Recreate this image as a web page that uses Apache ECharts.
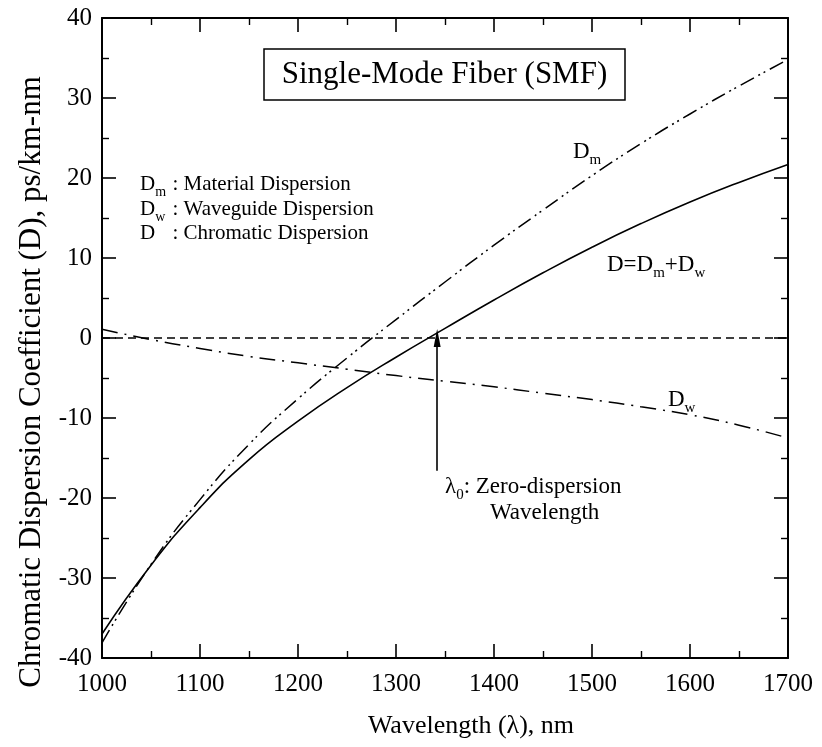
<!DOCTYPE html>
<html>
<head>
<meta charset="utf-8">
<script src="https://cdn.jsdelivr.net/npm/echarts@6/dist/echarts.min.js"></script>
<style>html,body{margin:0;padding:0;background:#fff;}#c{width:822px;height:747px;}</style>
</head>
<body>
<div id="c"></div>
<script>
// ---- data ----
const wavelength = [1000, 1050, 1100, 1150, 1200, 1250, 1300, 1350, 1400, 1450, 1500, 1550, 1600, 1650, 1700];
const chromaticD = [-37.0, -28.4, -21.2, -15.2, -10.4, -6.2, -2.4, 1.2, 4.75, 8.15, 11.35, 14.3, 17.0, 19.45, 21.7];
const materialDm = [-38.1, -28.3, -20.2, -13.3, -7.6, -2.5, 2.3, 7.0, 11.6, 16.0, 20.3, 24.3, 28.0, 31.5, 34.8];
const waveguideDw = [1.1, -0.2, -1.3, -2.3, -3.1, -3.9, -4.7, -5.4, -6.1, -6.9, -7.7, -8.6, -9.6, -10.9, -12.5];
const zeroX = [1000, 1700];
const zeroY = [0, 0];
const lambda0 = 1342;
const arrowFrom = -16.6;
const arrowTo = 0;
const xTicks = { min: 1000, max: 1700, interval: 100 };
const yTicks = { min: -40, max: 40, interval: 10 };

const FONT = 'Liberation Serif';
const pairs = (xs, ys) => xs.map((x, i) => [x, ys[i]]);

const chart = echarts.init(document.getElementById('c'), null, { renderer: 'canvas' });

const axisCommon = {
  type: 'value',
  axisLine: { show: true, onZero: false, lineStyle: { color: '#000', width: 2 } },
  axisTick: { show: true, inside: true, length: 14, lineStyle: { color: '#000', width: 1.6 } },
  minorTick: { show: true, splitNumber: 2, length: 7, lineStyle: { color: '#000', width: 1.4 } },
  splitLine: { show: false },
  minorSplitLine: { show: false }
};

const subRich = {
  a: { fontFamily: FONT, fontSize: 21, color: '#000', lineHeight: 30, verticalAlign: 'middle' },
  sw: { fontFamily: FONT, fontSize: 14, color: '#000', lineHeight: 30, verticalAlign: 'bottom', width: 12 },
  b: { fontFamily: FONT, fontSize: 23, color: '#000', lineHeight: 32, verticalAlign: 'middle' },
  t: { fontFamily: FONT, fontSize: 15, color: '#000', lineHeight: 32, verticalAlign: 'bottom' }
};

function label(x, y, text) {
  return { type: 'text', x: x, y: y, style: { text: text, rich: subRich, verticalAlign: 'middle', align: 'left' }, z: 10 };
}

const option = {
  backgroundColor: '#fff',
  animation: false,
  grid: { left: 102, right: 34, top: 18, bottom: 89, containLabel: false },
  xAxis: [
    Object.assign({}, axisCommon, {
      min: xTicks.min, max: xTicks.max, interval: xTicks.interval, position: 'bottom',
      axisLabel: { show: true, fontFamily: FONT, fontSize: 25, color: '#000', margin: 14, formatter: v => String(v) },
      name: 'Wavelength (λ), nm', nameLocation: 'middle', nameGap: 55,
      nameTextStyle: { fontFamily: FONT, fontSize: 26, color: '#000', padding: [0, 0, 0, 52] }
    }),
    Object.assign({}, axisCommon, {
      min: xTicks.min, max: xTicks.max, interval: xTicks.interval, position: 'top',
      axisLabel: { show: false }
    })
  ],
  yAxis: [
    Object.assign({}, axisCommon, {
      min: yTicks.min, max: yTicks.max, interval: yTicks.interval, position: 'left',
      axisLabel: { show: true, fontFamily: FONT, fontSize: 25, color: '#000', margin: 10, formatter: v => String(v) },
      name: 'Chromatic Dispersion Coefficient (D), ps/km-nm', nameLocation: 'middle', nameGap: 55,
      nameTextStyle: { fontFamily: FONT, fontSize: 31, color: '#000', padding: [0, 88, 0, 0] }
    }),
    Object.assign({}, axisCommon, {
      min: yTicks.min, max: yTicks.max, interval: yTicks.interval, position: 'right',
      axisLabel: { show: false }
    })
  ],
  series: [
    {
      name: 'D', type: 'line', xAxisIndex: 0, yAxisIndex: 0, smooth: 0.5, symbol: 'none',
      lineStyle: { color: '#000', width: 1.6, type: 'solid' },
      data: pairs(wavelength, chromaticD)
    },
    {
      name: 'Dm', type: 'line', xAxisIndex: 0, yAxisIndex: 0, smooth: 0.5, symbol: 'none',
      lineStyle: { color: '#000', width: 1.5, type: [15, 5, 2, 4, 2, 5] },
      data: pairs(wavelength, materialDm)
    },
    {
      name: 'Dw', type: 'line', xAxisIndex: 0, yAxisIndex: 0, smooth: 0.5, symbol: 'none',
      lineStyle: { color: '#000', width: 1.5, type: [16, 7, 2, 7] },
      data: pairs(wavelength, waveguideDw)
    },
    {
      name: 'zero', type: 'line', xAxisIndex: 0, yAxisIndex: 0, symbol: 'none',
      lineStyle: { color: '#000', width: 1.5, type: [8, 5] },
      data: pairs(zeroX, zeroY),
      markLine: {
        silent: true, animation: false,
        symbol: ['none', 'triangle'], symbolSize: [7, 18],
        label: { show: false },
        lineStyle: { color: '#000', width: 1.6, type: 'solid' },
        data: [[{ coord: [lambda0, arrowFrom], symbol: 'none' }, { coord: [lambda0, arrowTo], symbol: 'triangle', symbolSize: [7, 18] }]]
      }
    }
  ],
  graphic: [
    {
      type: 'rect', shape: { x: 264, y: 49, width: 361, height: 51 },
      style: { fill: '#fff', stroke: '#000', lineWidth: 1.5 }, z: 9
    },
    {
      type: 'text', x: 444.5, y: 75,
      style: { text: 'Single-Mode Fiber (SMF)', fontFamily: FONT, fontSize: 31, fill: '#000', align: 'center', verticalAlign: 'middle' }, z: 10
    },
    label(140, 184, '{a|D}{sw|m}{a| : Material Dispersion}'),
    label(140, 209, '{a|D}{sw|w}{a| : Waveguide Dispersion}'),
    label(140, 233, '{a|D}{sw| }{a| : Chromatic Dispersion}'),
    label(573, 152, '{b|D}{t|m}'),
    label(607, 265, '{b|D=D}{t|m}{b|+D}{t|w}'),
    label(668, 400, '{b|D}{t|w}'),
    label(445, 487, '{b|λ}{t|0}{b|: Zero-dispersion}'),
    label(490, 513, '{b|Wavelength}')
  ]
};
chart.setOption(option);
</script>
</body>
</html>
